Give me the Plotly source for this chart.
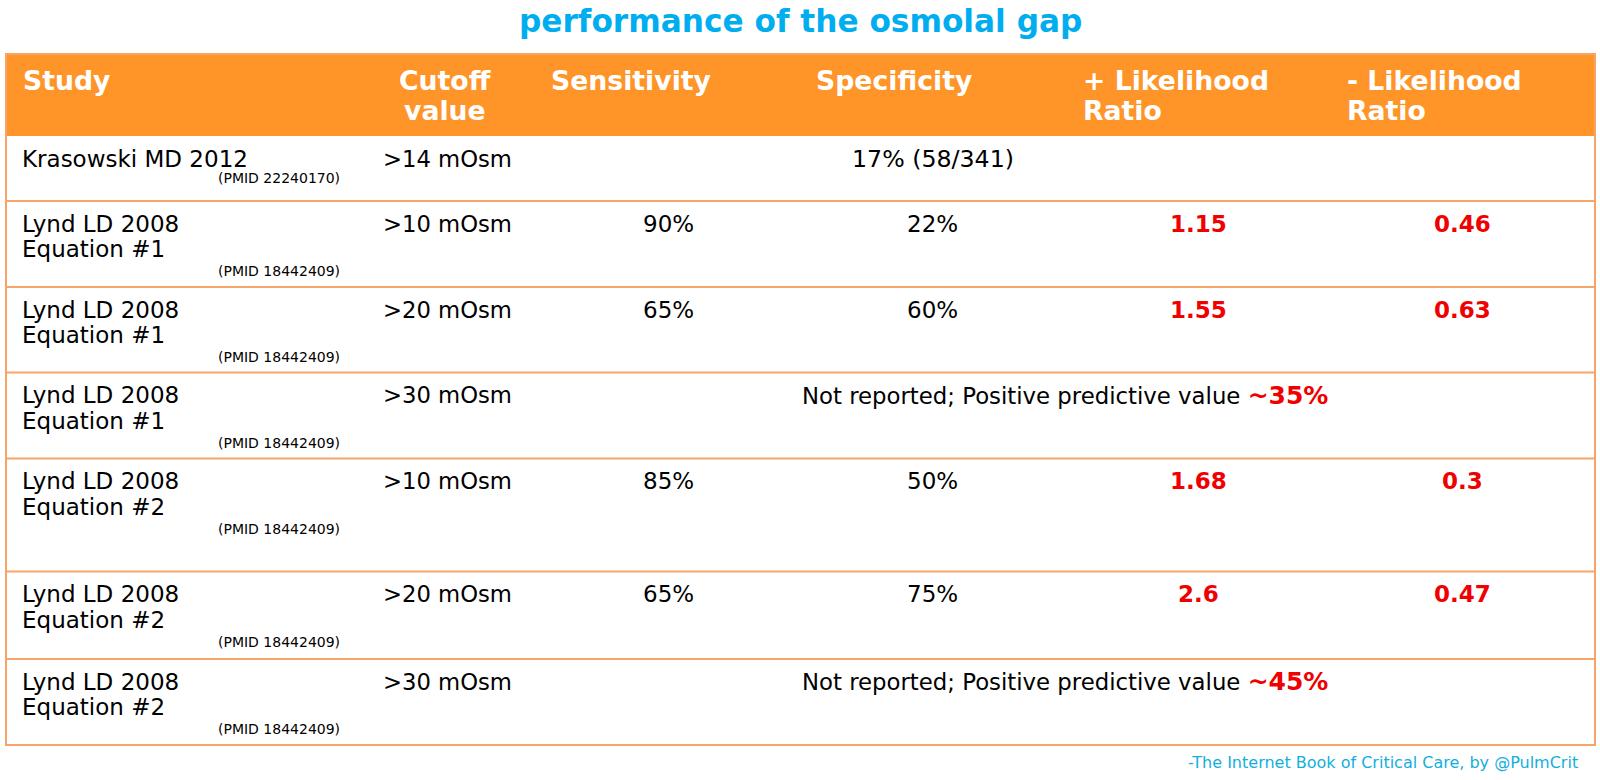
import plotly.graph_objects as go

# Table contents
headers = ['Study', 'Cutoff<br>value', 'Sensitivity', 'Specificity',
           '+ Likelihood<br>Ratio', '- Likelihood<br>Ratio']
studies = ['Krasowski MD 2012',
           'Lynd LD 2008<br>Equation #1',
           'Lynd LD 2008<br>Equation #1',
           'Lynd LD 2008<br>Equation #1',
           'Lynd LD 2008<br>Equation #2',
           'Lynd LD 2008<br>Equation #2',
           'Lynd LD 2008<br>Equation #2']
pmids = ['(PMID 22240170)', '(PMID 18442409)', '(PMID 18442409)', '(PMID 18442409)',
         '(PMID 18442409)', '(PMID 18442409)', '(PMID 18442409)']
cutoffs = ['>14 mOsm', '>10 mOsm', '>20 mOsm', '>30 mOsm', '>10 mOsm', '>20 mOsm', '>30 mOsm']
sensitivity = ['', '90%', '65%', '', '85%', '65%', '']
specificity = ['17% (58/341)', '22%', '60%', '', '50%', '75%', '']
lr_positive = ['', '1.15', '1.55', '', '1.68', '2.6', '']
lr_negative = ['', '0.46', '0.63', '', '0.3', '0.47', '']
ppv_notes = ['', '', '', '~35%', '', '', '~45%']

title = 'performance of the osmolal gap'
footer = '-The Internet Book of Critical Care, by @PulmCrit'

# Layout of the table, in pixels of the 1600x780 page
FONT = 'DejaVu Sans'
ORANGE = '#FF9429'
BORDER = '#F6A469'
BLUE = '#00AEEF'
RED = '#F00000'
row_edges = [136, 201, 287, 372.5, 458.5, 571.5, 659, 745]
table_left, table_right = 6, 1595
header_top = 54
x_study, x_pmid, x_cutoff = 21, 217, 381.5
x_sens, x_spec, x_lrp, x_lrn, x_note = 668, 932.5, 1198, 1462.5, 1065
header_x = [(21.5, 'left'), (445, 'center'), (630.5, 'center'), (894, 'center'),
            (1082, 'left'), (1346, 'left')]

fig = go.Figure()


def add_text(x, y, text, size=23, color='black', anchor='left', bold=False):
    fig.add_annotation(
        x=x, y=y, text=f'<b>{text}</b>' if bold else text,
        xref='x', yref='y', xanchor=anchor, yanchor='middle', align=anchor,
        showarrow=False, borderpad=0,
        font=dict(family=FONT, size=size, color=color))


# Header band and outer frame
fig.add_shape(type='rect', x0=table_left, x1=table_right, y0=header_top, y1=row_edges[0],
              fillcolor=ORANGE, line=dict(width=0), layer='below')
fig.add_shape(type='rect', x0=table_left, x1=table_right, y0=header_top, y1=row_edges[-1],
              fillcolor='rgba(0,0,0,0)', line=dict(color=BORDER, width=2))
for edge in row_edges[1:-1]:
    fig.add_shape(type='line', x0=table_left, x1=table_right, y0=edge, y1=edge,
                  line=dict(color=BORDER, width=2))

# Header text
for (x, anchor), label in zip(header_x, headers):
    lines = label.split('<br>')
    for k, line in enumerate(lines):
        add_text(x, 80 + k * 30, line, size=26.7, color='white', anchor=anchor, bold=True)

add_text(800, 21, title, size=31.2, color=BLUE, anchor='center', bold=True)
add_text(1579, 762, footer, size=16, color='#12AFDC', anchor='right')

# Body rows
for i in range(len(studies)):
    top = row_edges[i]
    y = top + 22.5
    for k, line in enumerate(studies[i].split('<br>')):
        add_text(x_study, y + k * 25.5, line)
    pmid_y = top + (42 if i == 0 else 70)
    add_text(x_pmid, pmid_y, pmids[i], size=14)
    add_text(x_cutoff, y, cutoffs[i], size=22.7)
    if sensitivity[i]:
        add_text(x_sens, y, sensitivity[i], anchor='center')
    if specificity[i]:
        size = 23.7 if i == 0 else 23
        add_text(x_spec, y, specificity[i], size=size, anchor='center')
    if lr_positive[i]:
        add_text(x_lrp, y, lr_positive[i], color=RED, anchor='center', bold=True)
    if lr_negative[i]:
        add_text(x_lrn, y, lr_negative[i], color=RED, anchor='center', bold=True)
    if ppv_notes[i]:
        note = ('Not reported; Positive predictive value '
                f'<span style="color:{RED};font-size:25px"><b>{ppv_notes[i]}</b></span>')
        add_text(x_note, y, note, size=22.8, anchor='center')

fig.update_xaxes(range=[0, 1600], visible=False, fixedrange=True)
fig.update_yaxes(range=[780, 0], visible=False, fixedrange=True)
fig.update_layout(
    width=1600, height=780,
    margin=dict(l=0, r=0, t=0, b=0),
    plot_bgcolor='white', paper_bgcolor='white',
    showlegend=False
)
# the page body has a default margin that would push the figure off the window
fig.write_html('out.html', config={'displayModeBar': False},
               post_script="document.body.style.margin='0';")
